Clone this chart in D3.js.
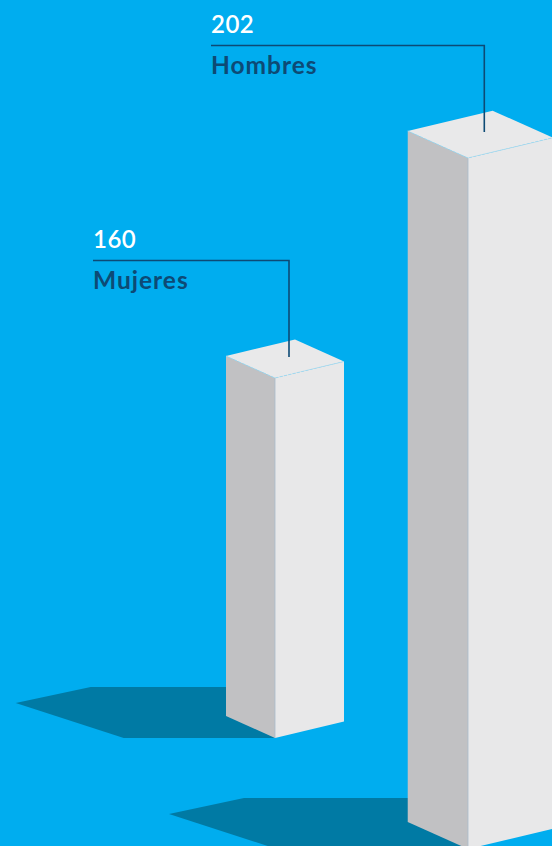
<!DOCTYPE html>
<html>
<head>
<meta charset="utf-8">
<script src="https://cdn.jsdelivr.net/npm/d3@7"></script>
<style>
  html, body { margin: 0; padding: 0; background: #00adef; }
  svg { display: block; }
</style>
</head>
<body>
<div id="chart"></div>
<script>
// donnees
const categorias = ["Mujeres", "Hombres"];
const valores = [160, 202];

const W = 552, H = 846;

const svg = d3.select("#chart").append("svg")
    .attr("width", W)
    .attr("height", H);

svg.append("rect").attr("width", W).attr("height", H).attr("fill", "#00adef");

// echelles
// hauteur des barres (dessin en perspective, pas proportionnel)
const hauteur = d3.scaleLinear().domain(d3.extent(valores)).range([360, 691]);
// longueur de l'ombre, proportionnelle a la valeur
const ombre = d3.scaleLinear().domain([0, d3.max(valores)]).range([0, 191]);
// position du coin avant-bas et profondeur
const xFront = d3.scalePoint().domain(categorias).range([275, 468]);
const ySol = d3.scalePoint().domain(categorias).range([738, 849]);
const prof = d3.scalePoint().domain(categorias).range([1, 1.23]);
const xLabel = d3.scalePoint().domain(categorias).range([93, 211]);
const yLabel = d3.scalePoint().domain(categorias).range([248, 33]);

const bars = categorias.map((c, i) => {
    const s = prof(c);
    const F = [xFront(c), ySol(c)];
    const h = hauteur(valores[i]);
    const L = [-49 * s, -22 * s];
    const R = [69 * s, -16.5 * s];
    const T = [F[0], F[1] - h];
    return { c, v: valores[i], s, F, h, L, R, T };
});

const add = (a, b) => [a[0] + b[0], a[1] + b[1]];
const poly = pts => "M" + pts.map(p => p.join(",")).join("L") + "Z";

// ombres
svg.selectAll(".ombre").data(bars).join("path")
    .attr("class", "ombre")
    .attr("fill", "#007aa4")
    .attr("d", d => {
        const bl = [d.F[0] - ombre(d.v), d.F[1]];
        const tip = add(bl, [-108, -35]);
        const tl = add(tip, [75, -16]);
        return poly([d.F, bl, tip, tl, [d.F[0], tl[1]]]);
    });

const g = svg.selectAll(".barre").data(bars).join("g").attr("class", "barre");

// face gauche
g.append("path")
    .attr("fill", "#c1c1c3")
    .attr("d", d => poly([d.F, add(d.F, d.L), add(d.T, d.L), d.T]));
// face droite
g.append("path")
    .attr("fill", "#e8e8e9")
    .attr("d", d => poly([d.F, add(d.F, d.R), add(d.T, d.R), d.T]));
// dessus
g.append("path")
    .attr("fill", "#e9e9ea")
    .attr("d", d => poly([d.T, add(d.T, d.L), add(add(d.T, d.L), d.R), add(d.T, d.R)]));

// aretes
g.append("path")
    .attr("fill", "none")
    .attr("stroke", "#9fd8f0")
    .attr("stroke-width", 0.8)
    .attr("stroke-dasharray", "3,1.5")
    .attr("d", d => "M" + add(d.T, d.L) + "L" + d.T + "L" + add(d.T, d.R));
g.append("line")
    .attr("stroke", "#a9bccb")
    .attr("stroke-width", 0.8)
    .attr("x1", d => d.F[0]).attr("x2", d => d.F[0])
    .attr("y1", d => d.T[1]).attr("y2", d => d.F[1]);

// etiquettes
const lab = svg.selectAll(".label").data(bars).join("g").attr("class", "label");

lab.append("path")
    .attr("fill", "none")
    .attr("stroke", "#0d4a75")
    .attr("stroke-width", 1.6)
    .attr("d", d => {
        const top = add(d.T, d.L);
        const cx = d.T[0] + (d.L[0] + d.R[0]) / 2 + 4;
        const y = yLabel(d.c) + 12.5;
        return "M" + xLabel(d.c) + "," + y + "H" + cx + "V" + (top[1] + 1);
    });

lab.append("text")
    .attr("x", d => xLabel(d.c))
    .attr("y", d => yLabel(d.c))
    .attr("fill", "#ffffff")
    .style("font-family", "Lato, 'Open Sans', sans-serif")
    .style("font-size", "24px")
    .style("font-weight", "600")
    .style("letter-spacing", "0.5px")
    .text(d => d.v);

lab.append("text")
    .attr("x", d => xLabel(d.c))
    .attr("y", d => yLabel(d.c) + 41)
    .attr("fill", "#0d4a75")
    .style("font-family", "Lato, 'Open Sans', sans-serif")
    .style("font-size", "24.5px")
    .style("font-weight", "700")
    .style("letter-spacing", "1px")
    .text(d => d.c);
</script>
</body>
</html>
